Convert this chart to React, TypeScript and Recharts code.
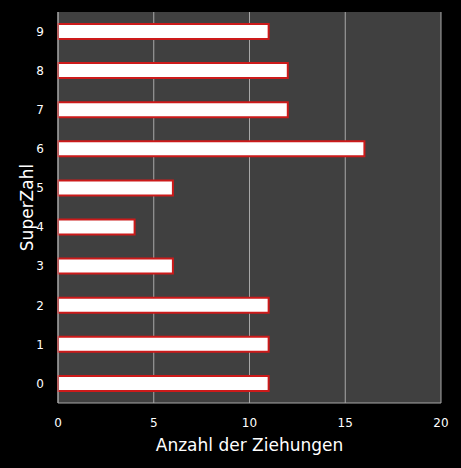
import React from "react";
import {
  BarChart,
  Bar,
  XAxis,
  YAxis,
  CartesianGrid,
} from "recharts";

// SuperZahl categories, top to bottom as drawn
const superZahlen = ["9", "8", "7", "6", "5", "4", "3", "2", "1", "0"];
const ziehungen = [11, 12, 12, 16, 6, 4, 6, 11, 11, 11];
const xTicks = [0, 5, 10, 15, 20];

const data = superZahlen.map((z, i) => ({ zahl: z, anzahl: ziehungen[i] }));

const FONT = "'DejaVu Sans', Verdana, sans-serif";

export default function App() {
  return (
    <div
      style={{
        position: "absolute",
        left: 0,
        top: 0,
        width: 461,
        height: 468,
        background: "#000",
      }}
    >
      <BarChart
        width={461}
        height={468}
        data={data}
        layout="vertical"
        margin={{ top: 12, right: 20, bottom: 15, left: 18 }}
        barCategoryGap={0}
      >
        <CartesianGrid
          horizontal={false}
          stroke="#a8a8a8"
          strokeWidth={1}
          fill="#404040"
        />
        <XAxis
          type="number"
          domain={[0, 20]}
          ticks={xTicks}
          height={50}
          tickLine={false}
          tickMargin={9}
          axisLine={{ stroke: "#a8a8a8" }}
          tick={{ fill: "#fff", fontSize: 12, fontFamily: FONT }}
          label={{
            value: "Anzahl der Ziehungen",
            position: "insideBottom",
            offset: 2,
            fill: "#fff",
            fontSize: 17,
            fontFamily: FONT,
          }}
        />
        <YAxis
          type="category"
          dataKey="zahl"
          width={40}
          tickLine={false}
          tickMargin={8}
          axisLine={{ stroke: "#a8a8a8" }}
          tick={{ fill: "#fff", fontSize: 12, fontFamily: FONT }}
          label={{
            value: "SuperZahl",
            angle: -90,
            position: "insideLeft",
            offset: 9,
            fill: "#fff",
            fontSize: 17,
            fontFamily: FONT,
            style: { textAnchor: "middle" },
          }}
        />
        <Bar
          dataKey="anzahl"
          fill="#ffffff"
          stroke="#cc1a1a"
          strokeWidth={2}
          barSize={15}
          isAnimationActive={false}
        />
      </BarChart>
    </div>
  );
}
